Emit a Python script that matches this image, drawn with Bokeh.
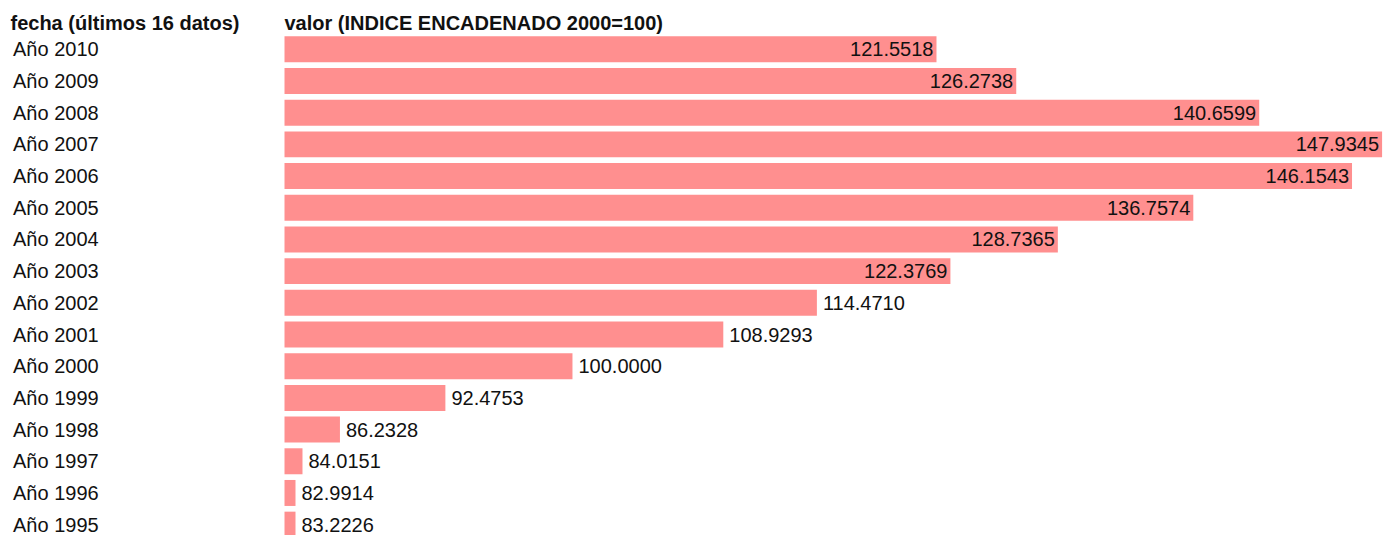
from bokeh.plotting import figure
from bokeh.models import ColumnDataSource, Range1d
from bokeh.core.properties import value
from bokeh.embed import file_html
from bokeh.resources import INLINE

# ---- data ----
years = ["Año 2010", "Año 2009", "Año 2008", "Año 2007", "Año 2006", "Año 2005",
         "Año 2004", "Año 2003", "Año 2002", "Año 2001", "Año 2000", "Año 1999",
         "Año 1998", "Año 1997", "Año 1996", "Año 1995"]
values = [121.5518, 126.2738, 140.6599, 147.9345, 146.1543, 136.7574,
          128.7365, 122.3769, 114.4710, 108.9293, 100.0000, 92.4753,
          86.2328, 84.0151, 82.9914, 83.2226]
header_left = "fecha (últimos 16 datos)"
header_right = "valor (INDICE ENCADENADO 2000=100)"

# ---- layout ----
W, H = 1385, 535
PX = 16.89                 # pixels per unit
BASE = 82.95               # value at bar origin
LEFT_PX = 284              # pixels from figure left to bar origin
x_start = BASE - LEFT_PX / PX
x_end = BASE + (W - LEFT_PX) / PX
PITCH = 31.69
first_c = 48.8             # first row centre, px from figure top
y_top = -first_c / PITCH
y_bot = (H - first_c) / PITCH
MIN_W = 11 / PX

FONT = value("Liberation Sans")
n = len(values)
idx = list(range(n))
rights = [max(v, BASE + MIN_W) for v in values]
labels = [f"{v:.4f}" for v in values]
inside = [v > 118 for v in values]

p = figure(width=W, height=H, output_backend="svg", toolbar_location=None,
           x_range=Range1d(x_start, x_end), y_range=Range1d(y_bot, y_top),
           min_border=0, outline_line_color=None)
p.axis.visible = False
p.grid.visible = False
p.background_fill_color = "white"
p.border_fill_color = "white"

src = ColumnDataSource(dict(y=idx, left=[BASE] * n, right=rights))
p.hbar(y="y", left="left", right="right", height=0.82, source=src,
       fill_color="#ff8f8f", line_color=None)

in_src = ColumnDataSource(dict(
    x=[r for r, i in zip(rights, inside) if i],
    y=[k for k, i in zip(idx, inside) if i],
    t=[l for l, i in zip(labels, inside) if i]))
out_src = ColumnDataSource(dict(
    x=[r for r, i in zip(rights, inside) if not i],
    y=[k for k, i in zip(idx, inside) if not i],
    t=[l for l, i in zip(labels, inside) if not i]))
p.text(x="x", y="y", text="t", source=in_src, text_align="right",
       text_baseline="middle", x_offset=-3, text_font=FONT,
       text_font_size="20px", text_color="#111111")
p.text(x="x", y="y", text="t", source=out_src, text_align="left",
       text_baseline="middle", x_offset=6, text_font=FONT,
       text_font_size="20px", text_color="#111111")

cat_src = ColumnDataSource(dict(x=[x_start] * n, y=idx, t=years))
p.text(x="x", y="y", text="t", source=cat_src, text_align="left",
       text_baseline="middle", x_offset=12.5, text_font=FONT,
       text_font_size="20px", text_color="#111111")

hy = (22.5 - first_c) / PITCH
p.text(x=[x_start], y=[hy], text=[header_left], text_align="left",
       text_baseline="middle", x_offset=10, text_font=FONT,
       text_font_size="20px", text_font_style="bold", text_color="#111111")
p.text(x=[BASE], y=[hy], text=[header_right], text_align="left",
       text_baseline="middle", x_offset=0, text_font=FONT,
       text_font_size="20px", text_font_style="bold", text_color="#111111")

open("out.html", "w").write(file_html(p, INLINE))
